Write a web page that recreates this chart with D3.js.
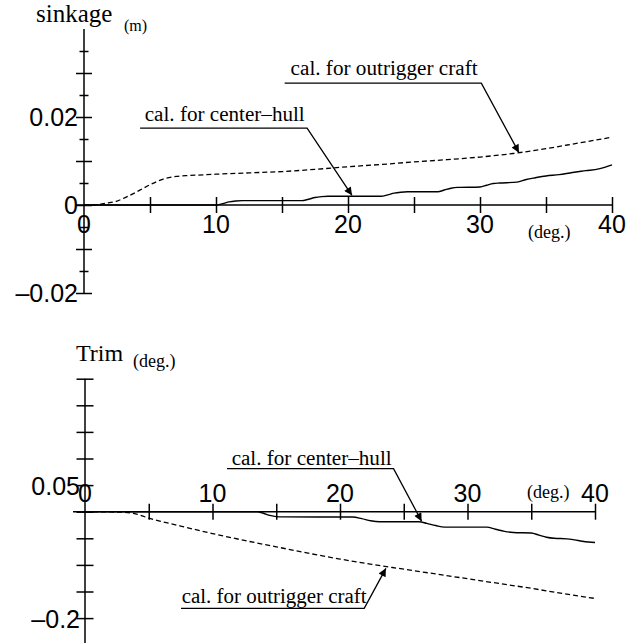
<!DOCTYPE html>
<html>
<head>
<meta charset="utf-8">
<script src="https://cdn.jsdelivr.net/npm/d3@7"></script>
<style>
  body { margin: 0; background: #fff; }
  svg { display: block; }
  .num { font-family: "Liberation Sans", Arial, Helvetica, sans-serif; font-size: 25px; fill: #000; }
  .ser { font-family: "Liberation Serif", "Times New Roman", serif; fill: #000; }
</style>
</head>
<body>
<svg id="chart" width="643" height="643"></svg>
<script>
// ---- Sinkage (m) vs heel angle (deg.) ----
const sinkOutAngle = [0, 1, 1.7, 2.5, 3.2, 4, 5, 6, 7, 8, 10, 12.5, 15, 17.5, 20, 22.5, 25, 27.5, 30, 32.5, 35, 37.5, 40];
const sinkOutValue = [0, 0.0001, 0.0004, 0.0009, 0.0018, 0.003, 0.0046, 0.0059, 0.0065, 0.0067, 0.0070, 0.0073, 0.0076, 0.0081, 0.0087, 0.0092, 0.0098, 0.0103, 0.0109, 0.0117, 0.0128, 0.0141, 0.0154];

const sinkHullAngle = [0, 10, 10.5, 11, 11.5, 12, 16.5, 17, 17.5, 18, 18.5, 22.5, 23, 23.5, 24, 24.5, 26.8, 27.3, 27.8, 28.3, 30, 30.5, 31, 31.5, 32.8, 33.5, 34.2, 35, 36, 37, 38, 39, 39.5, 40];
const sinkHullValue = [0, 0, 0.0003, 0.0007, 0.0009, 0.001, 0.001, 0.0013, 0.0017, 0.0019, 0.002, 0.002, 0.0023, 0.0027, 0.0029, 0.003, 0.003, 0.0034, 0.0038, 0.004, 0.0041, 0.0045, 0.0049, 0.005, 0.0052, 0.0058, 0.0062, 0.0066, 0.0069, 0.0074, 0.0078, 0.0082, 0.0086, 0.0091];

const sinkXTickLabels = [0, 10, 20, 30, 40];
const sinkYTickLabels = [0.02, 0, -0.02];

// ---- Trim (deg.) vs heel angle (deg.) ----
const trimOutAngle = [0, 2, 3, 3.8, 5, 7.5, 10, 12.5, 15, 17.5, 20, 22.5, 25, 27.5, 30, 32.5, 35, 37.5, 40];
const trimOutValue = [0, -0.0005, -0.001, -0.003, -0.012, -0.027, -0.041, -0.054, -0.066, -0.078, -0.089, -0.099, -0.108, -0.117, -0.126, -0.135, -0.144, -0.154, -0.163];

const trimHullAngle = [0, 13.5, 14, 14.5, 15, 15.5, 21, 21.7, 22.4, 23.1, 26.2, 26.8, 27.5, 28.2, 31.5, 32.2, 32.9, 33.6, 35, 35.6, 36.2, 36.8, 37.8, 38.4, 39, 39.5, 40];
const trimHullValue = [0, 0, -0.003, -0.007, -0.0093, -0.0098, -0.01, -0.013, -0.017, -0.019, -0.019, -0.022, -0.026, -0.029, -0.029, -0.033, -0.037, -0.039, -0.040, -0.044, -0.048, -0.050, -0.051, -0.053, -0.0555, -0.057, -0.058];

const trimXTickLabels = [0, 10, 20, 30, 40];
const trimYTickLabels = [0.05, -0.2];

const seriesNames = ["cal. for outrigger craft", "cal. for center\u2013hull"];

const fmtNum = v => (v < 0 ? "\u2013" : "") + String(Math.abs(v));

const svg = d3.select("#chart");

// arrowhead marker
svg.append("defs").append("marker")
  .attr("id", "arrow")
  .attr("viewBox", "0 0 10 10")
  .attr("refX", 10).attr("refY", 5)
  .attr("markerWidth", 11).attr("markerHeight", 8)
  .attr("markerUnits", "userSpaceOnUse")
  .attr("orient", "auto")
  .append("path").attr("d", "M0,0L10,5L0,10Z").attr("fill", "#000");

const lineGen = (x, y) => d3.line().x(d => x(d[0])).y(d => y(d[1])).curve(d3.curveMonotoneX);

function crossTicks(g, horizontal, lenFn) {
  g.select(".domain").remove();
  g.selectAll(".tick line").each(function(d) {
    const L = lenFn(d);
    if (horizontal) d3.select(this).attr("y1", -L).attr("y2", L);
    else d3.select(this).attr("x1", -L).attr("x2", L);
  }).attr("stroke", "#000").attr("stroke-width", 1.5);
  g.selectAll(".tick text").remove();
}

function annotate(g, a, x, y) {
  g.append("text").attr("class", "ser")
    .attr("x", x(a.textAt[0])).attr("y", y(a.textAt[1]))
    .attr("font-size", 20)
    .attr("textLength", a.width).attr("lengthAdjust", "spacingAndGlyphs")
    .text(a.label);
  g.append("path")
    .attr("d", d3.line()([
      [x(a.lineFrom), y(a.lineY)],
      [x(a.lineTo), y(a.lineY)],
      [x(a.tip[0]), y(a.tip[1])]
    ]))
    .attr("fill", "none").attr("stroke", "#000").attr("stroke-width", 1.3)
    .attr("marker-end", "url(#arrow)");
}

// ================= Sinkage panel =================
{
  const x = d3.scaleLinear().domain([0, 40]).range([84, 612]);
  const y = d3.scaleLinear().domain([-0.02, 0.04]).range([293, 29]);
  const g = svg.append("g");

  // x axis
  g.append("line").attr("x1", x(0) - 8).attr("x2", x(40)).attr("y1", y(0)).attr("y2", y(0))
    .attr("stroke", "#000").attr("stroke-width", 1.5);
  g.append("g").attr("transform", `translate(0,${y(0)})`)
    .call(d3.axisBottom(x).tickValues(d3.range(5, 41, 5)).tickSize(8))
    .call(gg => crossTicks(gg, true, () => 8));

  // y axis
  g.append("line").attr("x1", x(0)).attr("x2", x(0)).attr("y1", y(0.04)).attr("y2", y(-0.02))
    .attr("stroke", "#000").attr("stroke-width", 1.5);
  g.append("g").attr("transform", `translate(${x(0)},0)`)
    .call(d3.axisLeft(y).tickValues(d3.range(-4, 8).map(i => i * 0.005)).tickSize(8))
    .call(gg => crossTicks(gg, false, d => (Math.round(d * 1000) % 10 === 0 ? 8 : 4.5)));

  // tick labels
  g.selectAll(".xl").data(sinkXTickLabels).join("text").attr("class", "num")
    .attr("x", d => x(d)).attr("y", y(0) + 28).attr("text-anchor", "middle").text(d => d);
  g.selectAll(".yl").data(sinkYTickLabels).join("text").attr("class", "num")
    .attr("x", x(0) - 6).attr("y", d => y(d) + 9).attr("text-anchor", "end").text(fmtNum);

  // axis titles
  g.append("text").attr("class", "ser").attr("x", 36).attr("y", 22).attr("font-size", 25).text("sinkage");
  g.append("text").attr("class", "ser").attr("x", 124).attr("y", 31).attr("font-size", 16).text("(m)");
  g.append("text").attr("class", "ser").attr("x", 528).attr("y", 238).attr("font-size", 18).text("(deg.)");

  // curves
  g.append("path").datum(d3.zip(sinkOutAngle, sinkOutValue))
    .attr("d", lineGen(x, y)).attr("fill", "none").attr("stroke", "#000")
    .attr("stroke-width", 1.3).attr("stroke-dasharray", "5,3");
  g.append("path").datum(d3.zip(sinkHullAngle, sinkHullValue))
    .attr("d", lineGen(x, y)).attr("fill", "none").attr("stroke", "#000").attr("stroke-width", 1.4);

  annotate(g, { label: seriesNames[0], textAt: [15.65, 0.0296], width: 187,
    lineFrom: 15.2, lineTo: 30.1, lineY: 0.0277, tip: [32.95, 0.0119] }, x, y);
  annotate(g, { label: seriesNames[1], textAt: [4.6, 0.0192], width: 160,
    lineFrom: 4.25, lineTo: 16.9, lineY: 0.01745, tip: [20.3, 0.0022] }, x, y);
}

// ================= Trim panel =================
{
  const x = d3.scaleLinear().domain([0, 40]).range([85, 595]);
  const y = d3.scaleLinear().domain([-0.25, 0.25]).range([644.7, 378.7]);
  const g = svg.append("g");

  // x axis
  g.append("line").attr("x1", x(0) - 12).attr("x2", x(40)).attr("y1", y(0)).attr("y2", y(0))
    .attr("stroke", "#000").attr("stroke-width", 1.5);
  g.append("g").attr("transform", `translate(0,${y(0)})`)
    .call(d3.axisBottom(x).tickValues(d3.range(5, 41, 5)).tickSize(8))
    .call(gg => crossTicks(gg, true, () => 8));

  // y axis
  g.append("line").attr("x1", x(0)).attr("x2", x(0)).attr("y1", y(0.25)).attr("y2", 643)
    .attr("stroke", "#000").attr("stroke-width", 1.5);
  g.append("g").attr("transform", `translate(${x(0)},0)`)
    .call(d3.axisLeft(y).tickValues(d3.range(-4, 6).map(i => i * 0.05)).tickSize(8))
    .call(gg => crossTicks(gg, false, () => 8.5));

  // tick labels
  g.selectAll(".xl").data(trimXTickLabels).join("text").attr("class", "num")
    .attr("x", d => x(d)).attr("y", y(0) - 10).attr("text-anchor", "middle").text(d => d);
  g.selectAll(".yl").data(trimYTickLabels).join("text").attr("class", "num")
    .attr("x", x(0) - 5).attr("y", d => y(d) + 10).attr("text-anchor", "end").text(fmtNum);

  // axis titles
  g.append("text").attr("class", "ser").attr("x", 76).attr("y", 361).attr("font-size", 24).text("Trim");
  g.append("text").attr("class", "ser").attr("x", 133).attr("y", 367).attr("font-size", 18).text("(deg.)");
  g.append("text").attr("class", "ser").attr("x", 527).attr("y", 498).attr("font-size", 18).text("(deg.)");

  // curves
  g.append("path").datum(d3.zip(trimOutAngle, trimOutValue))
    .attr("d", lineGen(x, y)).attr("fill", "none").attr("stroke", "#000")
    .attr("stroke-width", 1.3).attr("stroke-dasharray", "5,3");
  g.append("path").datum(d3.zip(trimHullAngle, trimHullValue))
    .attr("d", lineGen(x, y)).attr("fill", "none").attr("stroke", "#000").attr("stroke-width", 1.4);

  annotate(g, { label: seriesNames[1], textAt: [11.5, 0.0878], width: 160,
    lineFrom: 11.14, lineTo: 24.2, lineY: 0.0808, tip: [26.4, -0.0178] }, x, y);
  annotate(g, { label: seriesNames[0], textAt: [7.58, -0.172], width: 185,
    lineFrom: 7.53, lineTo: 21.9, lineY: -0.1816, tip: [23.6, -0.1065] }, x, y);
}
</script>
</body>
</html>
